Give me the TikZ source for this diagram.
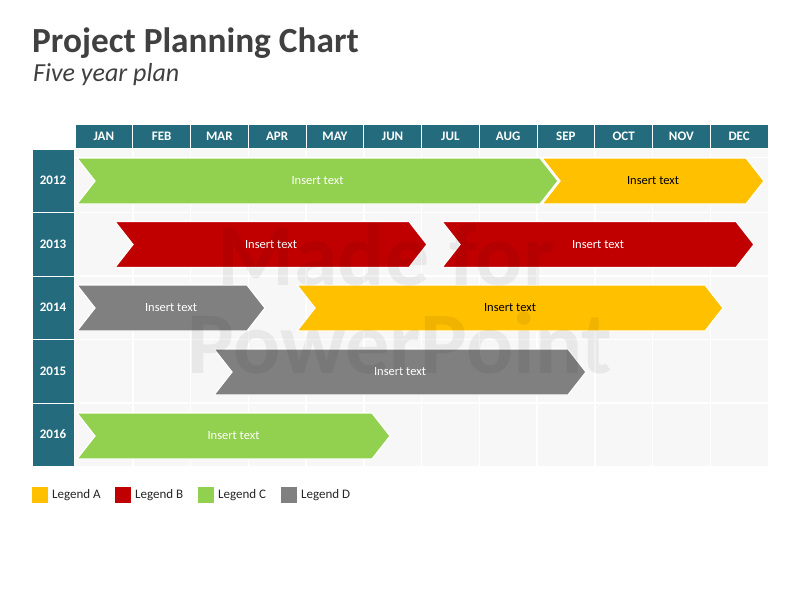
\documentclass[tikz,border=0pt]{standalone}
\usepackage{fontspec}
\setmainfont{Carlito}
\usetikzlibrary{calc}
\definecolor{teal1}{HTML}{246B7D}
\definecolor{gridbg}{HTML}{F7F7F7}
\definecolor{cA}{HTML}{FFC000}
\definecolor{cB}{HTML}{C00000}
\definecolor{cC}{HTML}{92D050}
\definecolor{cD}{HTML}{808080}
\definecolor{titlec}{HTML}{404040}
\tikzset{
  hdr/.style={fill=teal1,draw=white,line width=1pt},
  hdrtxt/.style={text=white,font=\bfseries\fontsize{13}{15}\selectfont},
  bartxt/.style={font=\fontsize{12.5}{15}\selectfont},
  chevron/.style={draw=white,line width=1.2pt},
  legsq/.style={minimum size=16pt,inner sep=0pt,anchor=north west},
  legtxt/.style={font=\fontsize{13}{15}\selectfont,anchor=west,inner sep=0pt,text=black!85},
}
\newcommand{\chev}[6]{% x1, x2, yc, color, name, textcolor
  \filldraw[chevron,fill=#4] (#1,#3-23) -- (#2-18,#3-23) -- (#2,#3) -- (#2-18,#3+23) -- (#1,#3+23) -- (#1+18,#3) -- cycle;
  \node[bartxt,text=#6] (#5) at ({(#1+#2)/2},#3) {Insert text};
}
\begin{document}
\begin{tikzpicture}[x=1pt,y=-1pt]
\useasboundingbox (0,0) rectangle (800,600);
\fill[white] (0,0) rectangle (800,600);
% title
\node[anchor=base west,inner sep=0pt,text=titlec,font=\bfseries\fontsize{35.3}{40}\selectfont] (title) at (32,52) {Project Planning Chart};
\node[anchor=base west,inner sep=0pt,text=titlec,font=\itshape\fontsize{26}{30}\selectfont] (subtitle) at (33,81) {Five year plan};
% grid background
\fill[gridbg] (75,149) rectangle (768,466);
\foreach \i in {1,...,11}{
  \draw[white,line width=1.5pt] ({75+\i*57.75},149) -- ({75+\i*57.75},466);
}
\draw[white,line width=0.8pt] (75,157) -- (768,157);
\foreach \y in {212.5,276,339.5,403}{
  \draw[white,line width=1.5pt] (75,\y) -- (768,\y);
}
% month header
\foreach \m [count=\i from 0] in {JAN,FEB,MAR,APR,MAY,JUN,JUL,AUG,SEP,OCT,NOV,DEC}{
  \draw[hdr] ({75+\i*57.75},124) rectangle ({75+(\i+1)*57.75},148.5);
  \node[hdrtxt] (m\i) at ({75+(\i+0.5)*57.75},136.5) {\m};
}
% year column
\foreach \yr/\a/\b in {2012/149/212.5,2013/212.5/276,2014/276/339.5,2015/339.5/403,2016/403/466}{
  \draw[hdr] (32,\a) rectangle (74.5,\b);
  \node[hdrtxt] (y\yr) at (53,{(\a+\b)/2}) {\yr};
}
% bars
\chev{77}{558}{181}{cC}{b1}{white}
\chev{542}{764}{181}{cA}{b2}{black}
\chev{115}{427}{244.5}{cB}{b3}{white}
\chev{442}{754}{244.5}{cB}{b4}{white}
\chev{77}{265}{308}{cD}{b5}{white}
\chev{297}{723}{308}{cA}{b6}{black}
\chev{214}{586}{372}{cD}{b7}{white}
\chev{77}{390}{436}{cC}{b8}{white}
% watermark
\node[anchor=base,inner sep=0pt,text=black,opacity=0.06,font=\bfseries\fontsize{88}{90}\selectfont] (wm1) at (386,285) {Made for};
\node[anchor=base,inner sep=0pt,text=black,opacity=0.06,font=\bfseries\fontsize{88}{90}\selectfont] (wm2) at (400,373) {PowerPoint};
% legend
\node[legsq,fill=cA] (la) at (32,487) {};
\node[legtxt] (lat) at (52,495) {Legend A};
\node[legsq,fill=cB] (lb) at (115,487) {};
\node[legtxt] (lbt) at (135,495) {Legend B};
\node[legsq,fill=cC] (lc) at (198,487) {};
\node[legtxt] (lct) at (218,495) {Legend C};
\node[legsq,fill=cD] (ld) at (281,487) {};
\node[legtxt] (ldt) at (301,495) {Legend D};
\end{tikzpicture}
\end{document}
